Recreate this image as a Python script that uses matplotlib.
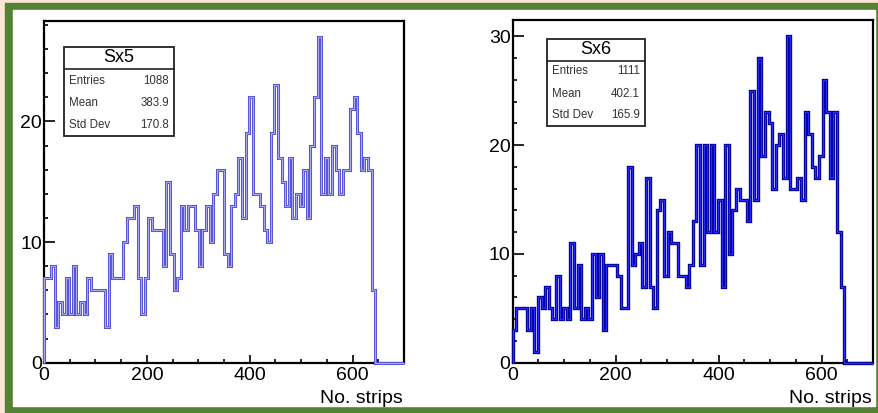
import numpy as np
import matplotlib
matplotlib.use('Agg')
import matplotlib.pyplot as plt
from matplotlib.patches import Rectangle
from matplotlib.lines import Line2D

plt.rcParams['font.family'] = ['Liberation Sans', 'DejaVu Sans']

# 100 bins over 0..700 strips (ROOT default binning)
bin_lo, bin_hi, n_bins = 0, 700, 100

# counts per bin (bins after the last one are empty)
sx5_counts = [7, 7, 8, 3, 5, 4, 7, 4, 8, 4,
              5, 4, 7, 6, 6, 6, 6, 3, 9, 7,
              7, 7, 10, 12, 12, 13, 7, 4, 7, 12,
              11, 11, 11, 8, 15, 9, 6, 7, 13, 11,
              13, 13, 11, 8, 11, 13, 10, 14, 16, 16,
              9, 8, 13, 14, 17, 12, 19, 22, 14, 14,
              13, 11, 10, 19, 23, 17, 15, 13, 17, 12,
              14, 13, 16, 12, 18, 22, 27, 14, 17, 14,
              18, 16, 14, 16, 16, 21, 22, 19, 16, 17,
              16, 6]
sx6_counts = [3, 5, 5, 5, 3, 5, 1, 6, 5, 7,
              5, 4, 8, 4, 5, 4, 11, 5, 9, 4,
              5, 4, 10, 6, 10, 3, 9, 9, 9, 8,
              5, 5, 18, 9, 10, 11, 7, 17, 7, 5,
              14, 15, 8, 12, 11, 11, 8, 8, 7, 9,
              13, 20, 9, 20, 12, 20, 12, 15, 7, 20,
              10, 14, 16, 15, 15, 13, 25, 15, 28, 19,
              23, 22, 16, 20, 21, 17, 30, 16, 16, 17,
              15, 23, 21, 18, 17, 19, 26, 23, 17, 23,
              12, 7]

titles = ['Sx5', 'Sx6']
stat_names = ['Entries', 'Mean', 'Std Dev']
sx5_stats = ['1088', '383.9', '170.8']
sx6_stats = ['1111', '402.1', '165.9']
x_label = 'No. strips'

W, H = 879, 413


def fx(x):
    return x / W


def fy(y):
    return 1 - y / H


fig = plt.figure(figsize=(W / 100, H / 100), dpi=100, facecolor='#fbe5d6')
# green slide frame + white inside
fig.add_artist(Rectangle((fx(5), fy(413)), fx(879) - fx(5), fy(3) - fy(413),
                         transform=fig.transFigure, color='#548235', zorder=0))
fig.add_artist(Rectangle((fx(13), fy(406)), fx(875) - fx(13), fy(10) - fy(406),
                         transform=fig.transFigure, color='white', zorder=0))

edges = np.linspace(bin_lo, bin_hi, n_bins + 1)

# panel layout in pixels: axes box, stats box, colours
panels = [
    dict(counts=sx5_counts, title=titles[0], stats=sx5_stats,
         ax=(44, 20.7, 404, 362.7), box=(64, 47, 174, 136), sep=69,
         rows=(81, 103, 125), outer='#5555d2', inner='#a8a8f5',
         lw=(2.2, 0.8), yticks=[0, 10, 20]),
    dict(counts=sx6_counts, title=titles[1], stats=sx6_stats,
         ax=(512.7, 20, 873, 362.7), box=(547, 39, 645, 126), sep=61,
         rows=(71, 94, 115), outer='#00009a', inner='#2a2aff',
         lw=(2.4, 0.9), yticks=[0, 10, 20, 30]),
]

for p in panels:
    x0, y0, x1, y1 = p['ax']
    ax = fig.add_axes([fx(x0), fy(y1), fx(x1) - fx(x0), fy(y0) - fy(y1)])
    vals = np.array(p['counts'] + [0] * (n_bins - len(p['counts'])))
    ax.stairs(vals, edges, color=p['outer'], lw=p['lw'][0], zorder=3, clip_on=False)
    ax.stairs(vals, edges, color=p['inner'], lw=p['lw'][1], zorder=4, clip_on=False)
    ax.set_xlim(bin_lo, bin_hi)
    ax.set_ylim(0, 1.05 * max(p['counts']))
    ax.set_xticks([0, 200, 400, 600])
    ax.set_xticks(np.arange(0, 701, 50), minor=True)
    ax.set_yticks(p['yticks'])
    ax.set_yticks(np.arange(0, ax.get_ylim()[1], 2), minor=True)
    ax.tick_params(axis='both', which='both', direction='in', labelsize=14,
                   width=1.2, colors='black')
    ax.tick_params(axis='x', which='major', length=6, pad=3)
    ax.tick_params(axis='x', which='minor', length=3)
    ax.tick_params(axis='y', which='major', length=8, pad=1.5)
    ax.tick_params(axis='y', which='minor', length=3.2)
    for s in ax.spines.values():
        s.set_linewidth(1.6)
    ax.set_facecolor('none')

    fig.text(fx(x1 - 1), fy(403), x_label, ha='right', va='baseline',
             fontsize=14)

    # stats box
    bx0, by0, bx1, by1 = p['box']
    fig.add_artist(Rectangle((fx(bx0), fy(by1)), fx(bx1) - fx(bx0), fy(by0) - fy(by1),
                             transform=fig.transFigure, facecolor='white',
                             edgecolor='#222222', lw=1.3, zorder=5))
    fig.add_artist(Line2D([fx(bx0), fx(bx1)], [fy(p['sep']), fy(p['sep'])],
                          transform=fig.transFigure, color='#222222', lw=1.2,
                          zorder=6))
    fig.text(fx((bx0 + bx1) / 2), fy((by0 + p['sep']) / 2), p['title'],
             ha='center', va='center', fontsize=13, zorder=7)
    for name, val, ry in zip(stat_names, p['stats'], p['rows']):
        fig.text(fx(bx0 + 5), fy(ry), name, ha='left', va='center',
                 fontsize=8.3, color='#333333', zorder=7)
        fig.text(fx(bx1 - 5), fy(ry), val, ha='right', va='center',
                 fontsize=8.3, color='#333333', zorder=7)

fig.savefig('out.png', dpi=100, facecolor=fig.get_facecolor())
